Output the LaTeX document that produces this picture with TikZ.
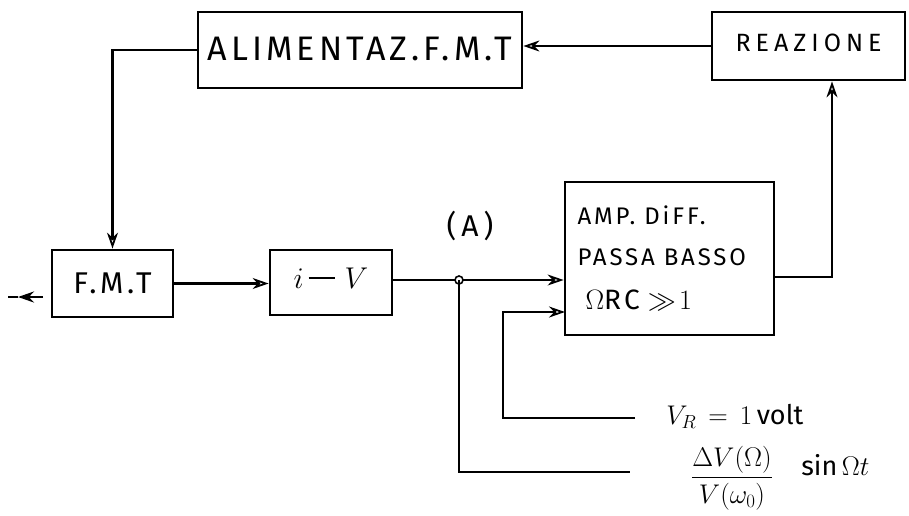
\RequirePackage{fix-cm}
\documentclass[tikz,border=0pt]{standalone}
\usepackage{fontspec}
\usepackage{amsmath}
\newfontfamily\hand{Fira Sans}
\newfontfamily\handsp[LetterSpace=12]{Fira Sans}
\newfontfamily\handwide[LetterSpace=20]{Fira Sans}
\usetikzlibrary{arrows.meta}
\begin{document}
\begin{tikzpicture}[x=1pt,y=-1pt,
  line width=2.6pt,
  blk/.style={draw,line width=2.8pt,inner sep=0pt,font=\hand},
  arr/.style={-{Stealth[open,length=16pt,width=11pt,line width=1.8pt]}},
  lbl/.style={inner sep=0pt,font=\hand}]
\useasboundingbox (0,0) rectangle (909,515);
% blocks
\node[blk,minimum width=324,minimum height=76] (alim) at (360,50)
  {\raisebox{3pt}{\handsp\fontsize{34}{40}\selectfont ALIMENTAZ.F.M.T}};
\node[blk,minimum width=193,minimum height=68] (reaz) at (808.5,46)
  {\raisebox{7pt}{\handwide\fontsize{25}{30}\selectfont REAZIONE}};
\node[blk,minimum width=121,minimum height=67] (fmt) at (112.5,283.5)
  {\handsp\fontsize{30}{34}\selectfont F.M.T};
\node[blk,minimum width=122,minimum height=65] (iv) at (331,282.5)
  {\raisebox{9pt}{\fontsize{30}{34}\selectfont$i$\,\rule[0.3em]{26pt}{2.2pt}\,\,$V$}};
\node[blk,minimum width=209,minimum height=153,align=left,text width=184] (amp) at (669.5,258.5)
  {\handsp\fontsize{24}{41}\selectfont AMP.\hspace{9pt}DiFF.\\ PASSA\hspace{9pt}BASSO\\ \fontsize{28}{44}\selectfont\ \,$\Omega$RC\hspace{8pt}$\gg\!1$\par\vspace{20pt}};
% coordinates
\coordinate (J) at (459,280);
\coordinate (C1) at (503,418);
\coordinate (A2) at (565,312);
\coordinate (VR) at (635,418);
\coordinate (S) at (630,472);
\coordinate (O) at (832,277);
\coordinate (in0) at (8,297);
\coordinate (inm) at (18,297);
\coordinate (in1) at (43,297);
% connectors
\draw[arr] (reaz.west) -- (reaz.west -| alim.east);
\draw[arr] (alim.west) -| (fmt.north);
\draw[arr] (fmt.east) -- (fmt.east -| iv.west);
\draw (iv.east |- J) -- (J);
\draw[arr] (J) -- (J -| amp.west);
\draw[line width=1.6pt,fill=white] (J) circle (4pt);
\draw[arr] (VR) -- (C1) |- (A2);
\draw (J) |- (S);
\draw[arr] (amp.east |- O) -- (O) -- (O |- reaz.south);
\draw[-{Stealth[length=16pt,width=11pt]}] (in1) -- (inm);
\draw (inm) -- (in0);
% labels
\node[lbl,font=\handsp\fontsize{30}{34}\selectfont] (lA) at (470,226) {(\,A\,)};
\node[lbl,anchor=west] (lVR) at (665,416) {\fontsize{27}{32}\selectfont$V_R\,=\,1$\,{\hand volt}};
\node[lbl] (lfrac) at (732,478) {\fontsize{27}{32}\selectfont$\dfrac{\Delta V(\Omega)}{V(\omega_0)}$};
\node[lbl,anchor=west] (lsin) at (800,465) {\fontsize{27}{32}\selectfont{\hand sin}\,$\Omega t$};
\end{tikzpicture}
\end{document}
